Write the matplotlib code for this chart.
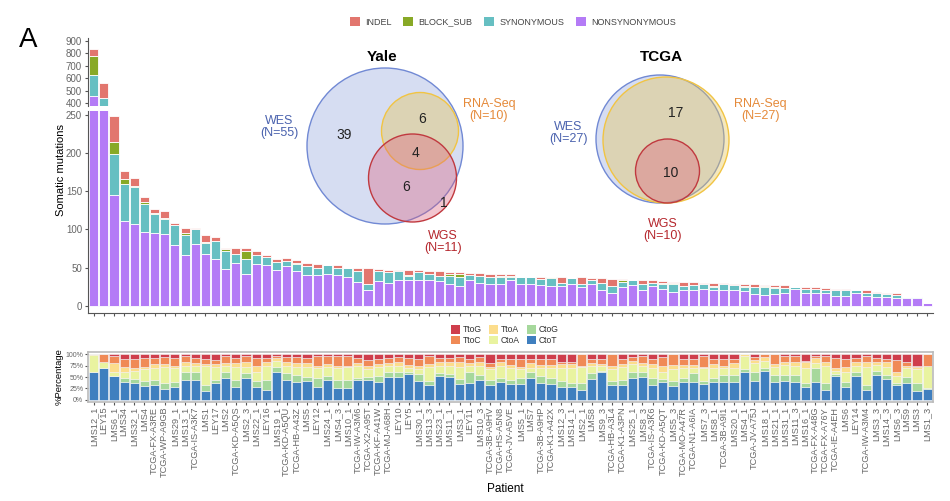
import matplotlib
matplotlib.use('Agg')
import matplotlib.pyplot as plt
import numpy as np
from matplotlib.patches import Patch, Circle

plt.rcParams['font.family'] = ['Liberation Sans', 'DejaVu Sans']

patients = ['LMS12_1', 'LEY15', 'LMS6_1', 'LMS34', 'LMS32_1', 'LMS4', 'TCGA-FX-A3RE', 'TCGA-WP-A9GB',
            'LMS29_1', 'LMS13_1', 'TCGA-IS-A3K7', 'LMS1', 'LEY17', 'LMS2', 'TCGA-KD-A5QS', 'LMS2_3',
            'LMS22_1', 'LEY16', 'LMS19_1', 'TCGA-KD-A5QU', 'TCGA-HB-A43Z', 'LMS5', 'LEY12', 'LMS24_1',
            'LMS4_3', 'LMS10_1', 'TCGA-IW-A3M6', 'TCGA-X2-A95T', 'TCGA-KF-A41W', 'TCGA-MJ-A68H', 'LEY10',
            'LEY5', 'LMS30_1', 'LMS13_3', 'LMS23_1', 'LMS11_1', 'LMS3_1', 'LEY11', 'LMS10_3',
            'TCGA-3B-A9HV', 'TCGA-HS-A5N8', 'TCGA-JV-A5VE', 'LMS5_1', 'LMS7', 'TCGA-3B-A9HP',
            'TCGA-K1-A42X', 'LMS12_3', 'LMS14_1', 'LMS2_1', 'LMS8', 'LMS9_3', 'TCGA-HB-A3L4',
            'TCGA-K1-A3PN', 'LMS25_1', 'LMS8_3', 'TCGA-IS-A3K6', 'TCGA-KD-A5QT', 'LMS5_3',
            'TCGA-MO-A47R', 'TCGA-N1-A6IA', 'LMS7_3', 'LMS8_1', 'TCGA-3B-A9I1', 'LMS20_1', 'LMS4_1',
            'TCGA-JV-A75J', 'LMS18_1', 'LMS21_1', 'LMS31_1', 'LMS11_3', 'LMS16_1', 'TCGA-FX-A48G',
            'TCGA-FX-A76Y', 'TCGA-IE-A4EH', 'LMS6', 'LEY14', 'TCGA-IW-A3M4', 'LMS3_3', 'LMS14_3',
            'LMS6_3', 'LMS9', 'LMS3', 'LMS1_3']

# somatic mutation counts
nonsyn = [460, 360, 145, 111, 107, 97, 95, 94, 80, 66, 81, 68, 61, 48, 56, 42, 54, 53, 47, 52, 46,
          40, 40, 41, 40, 37, 31, 20, 32, 30, 34, 34, 33, 34, 32, 28, 26, 34, 30, 28, 28, 33, 28,
          28, 27, 26, 26, 29, 24, 28, 21, 17, 24, 27, 21, 26, 22, 18, 21, 20, 22, 20, 21, 20, 19,
          15, 14, 15, 16, 22, 17, 17, 17, 13, 13, 16, 13, 11, 12, 10, 10, 10, 4]
syn = [165, 80, 54, 48, 48, 36, 25, 20, 26, 27, 19, 14, 24, 24, 12, 19, 12, 11, 10, 6, 9, 12, 9,
       12, 9, 13, 14, 8, 13, 14, 11, 5, 11, 8, 7, 11, 12, 6, 9, 9, 10, 5, 9, 9, 8, 10, 4, 7, 4, 6,
       9, 9, 7, 6, 8, 4, 6, 11, 5, 7, 6, 4, 7, 7, 6, 9, 10, 8, 7, 3, 5, 5, 4, 8, 7, 4, 4, 6, 3, 4,
       2, 1, 0]
block_sub = [155, 0, 16, 7, 2, 3, 2, 1, 0, 2, 1, 1, 0, 2, 0, 11, 1, 0, 0, 1, 1, 0, 0, 0, 0, 0, 0,
             0, 0, 0, 0, 1, 0, 0, 0, 3, 3, 0, 0, 0, 1, 1, 0, 0, 0, 2, 0, 0, 0, 0, 0, 0, 2, 0, 0, 0,
             2, 1, 0, 0, 0, 2, 0, 0, 1, 0, 2, 1, 0, 0, 0, 0, 0, 0, 0, 1, 0, 0, 0, 0, 0, 0, 0]
indel = [55, 120, 33, 10, 10, 6, 5, 9, 2, 7, 1, 9, 5, 2, 8, 3, 4, 2, 4, 3, 4, 4, 5, 0, 4, 0, 5,
         21, 3, 3, 2, 7, 3, 3, 6, 2, 3, 3, 4, 5, 2, 2, 0, 0, 3, 0, 7, 0, 9, 2, 6, 9, 2, 0, 4, 3,
         2, 1, 5, 4, 2, 4, 2, 2, 3, 4, 1, 3, 4, 0, 3, 2, 2, 1, 2, 0, 3, 1, 2, 2, 0, 0, 0]

# base substitution spectrum (%)
CtoT = [60, 69, 52, 39, 37, 31, 32, 24, 29, 44, 44, 19, 36, 48, 27, 47, 29, 22, 62, 43, 40, 42, 29,
        44, 25, 25, 44, 44, 40, 50, 50, 57, 42, 33, 52, 50, 35, 37, 44, 33, 40, 35, 35, 47, 37, 35,
        29, 29, 22, 46, 61, 33, 33, 48, 50, 33, 40, 31, 40, 39, 35, 40, 40, 40, 61, 42, 64, 40, 42,
        40, 27, 39, 22, 52, 29, 52, 22, 54, 46, 33, 36, 19, 23]
CtoG = [0, 0, 0, 9, 9, 11, 11, 13, 11, 17, 17, 13, 8, 14, 17, 11, 13, 22, 10, 15, 14, 8, 19, 8, 19,
        19, 3, 6, 12, 11, 12, 4, 14, 9, 6, 6, 11, 24, 10, 10, 7, 9, 12, 13, 15, 12, 13, 8, 15, 12,
        3, 9, 11, 14, 12, 14, 6, 11, 7, 19, 7, 7, 14, 14, 6, 19, 5, 14, 12, 14, 9, 30, 14, 4, 10, 9,
        11, 10, 8, 4, 14, 18, 2]
CtoA = [38, 14, 10, 14, 18, 25, 26, 34, 29, 14, 14, 43, 28, 13, 28, 13, 20, 31, 14, 17, 18, 21, 21,
        21, 25, 27, 28, 17, 19, 14, 13, 8, 11, 29, 17, 19, 26, 14, 21, 24, 28, 25, 20, 9, 17, 22, 27,
        32, 34, 17, 11, 25, 28, 17, 13, 22, 16, 25, 22, 11, 27, 22, 15, 15, 30, 20, 17, 17, 23, 21,
        33, 12, 39, 8, 23, 14, 38, 13, 17, 15, 19, 30, 50]
TtoA = [2, 0, 19, 10, 5, 5, 10, 8, 6, 8, 6, 4, 7, 6, 9, 12, 13, 8, 6, 8, 9, 10, 6, 6, 6, 4, 6, 8,
        8, 6, 8, 8, 8, 8, 8, 8, 11, 6, 8, 5, 8, 8, 5, 12, 8, 8, 10, 10, 4, 6, 4, 8, 7, 7, 6, 10, 13,
        10, 8, 8, 2, 10, 6, 12, 3, 6, 8, 8, 6, 8, 14, 11, 8, 5, 9, 8, 12, 6, 12, 8, 6, 4, 0]
TtoC = [0, 17, 15, 17, 20, 19, 12, 15, 17, 13, 11, 10, 8, 15, 11, 14, 17, 9, 5, 11, 13, 11, 21, 17,
        21, 21, 11, 12, 10, 11, 11, 15, 14, 17, 9, 9, 11, 8, 11, 9, 7, 12, 17, 8, 12, 12, 4, 4, 25,
        8, 10, 25, 10, 8, 15, 10, 19, 23, 12, 12, 26, 10, 14, 8, 0, 7, 6, 21, 13, 13, 3, 4, 13, 23,
        18, 9, 13, 9, 6, 27, 8, 4, 25]
TtoG = [0, 0, 4, 11, 11, 9, 9, 6, 8, 4, 8, 11, 13, 4, 8, 3, 8, 8, 3, 6, 6, 8, 4, 4, 4, 4, 8, 13, 11,
        8, 6, 8, 11, 4, 8, 8, 6, 11, 6, 19, 10, 11, 11, 11, 11, 11, 17, 17, 0, 11, 11, 0, 11, 6, 4,
        11, 6, 0, 11, 11, 3, 11, 11, 11, 0, 6, 0, 0, 4, 4, 14, 4, 4, 8, 11, 8, 4, 8, 11, 13, 17, 25, 0]

# Venn counts
yale_counts = ['39', '6', '4', '6', '1']
tcga_counts = ['17', '10']

W, H = 950, 501
fig = plt.figure(figsize=(W / 100, H / 100), dpi=100)


def px_axes(x0, y0, x1, y1):
    return fig.add_axes([x0 / W, 1 - y1 / H, (x1 - x0) / W, (y1 - y0) / H])


mut_cols = {'NONSYNONYMOUS': '#B47BF6', 'SYNONYMOUS': '#66BFC2',
            'BLOCK_SUB': '#88A926', 'INDEL': '#E2766E'}
sub_cols = {'CtoT': '#3F7FBF', 'CtoG': '#A6D89C', 'CtoA': '#E9F3A0',
            'TtoA': '#FCDD8C', 'TtoC': '#F08A56', 'TtoG': '#CF3E4C'}
tick_col = '#666666'
x = np.arange(len(patients))

ax_hi = px_axes(87.5, 38, 933.2, 106)
ax_lo = px_axes(87.5, 111, 933.2, 313)
ax_pc = px_axes(87.5, 352, 933.2, 402)

series = [('NONSYNONYMOUS', nonsyn), ('SYNONYMOUS', syn), ('BLOCK_SUB', block_sub), ('INDEL', indel)]
for ax in (ax_hi, ax_lo):
    bottom = np.zeros(len(patients))
    for name, vals in series:
        v = np.array(vals, dtype=float)
        ax.bar(x, v, bottom=bottom, width=0.9, color=mut_cols[name], edgecolor='white', linewidth=0.6)
        bottom += v
    ax.set_xlim(-0.6, len(patients) - 0.4)
    for s in ('top', 'right'):
        ax.spines[s].set_visible(False)
    ax.spines['left'].set_color('#555555')
    ax.tick_params(axis='y', labelsize=7, colors='#555555', length=2.5, labelcolor=tick_col, pad=1.5)

ax_hi.set_ylim(378, 922)
ax_hi.set_yticks([400, 500, 600, 700, 800, 900])
ax_hi.spines['bottom'].set_visible(False)
ax_hi.set_xticks([])

ax_lo.set_ylim(-9.6, 255)
ax_lo.set_yticks([0, 50, 100, 150, 200, 250])
ax_lo.set_xticks(x)
ax_lo.set_xticklabels([])
ax_lo.spines['bottom'].set_color('#555555')
ax_lo.tick_params(axis='x', length=2.5, colors='#555555')
fig.text(61 / W, 1 - 170 / H, 'Somatic mutations', rotation=90, ha='center', va='center', fontsize=8)

# percentage panel
spec = [('CtoT', CtoT), ('CtoG', CtoG), ('CtoA', CtoA), ('TtoA', TtoA), ('TtoC', TtoC), ('TtoG', TtoG)]
tot = np.sum([np.array(v, dtype=float) for _, v in spec], axis=0)
bottom = np.zeros(len(patients))
for name, vals in spec:
    v = np.array(vals, dtype=float) / tot
    ax_pc.bar(x, v, bottom=bottom, width=0.9, color=sub_cols[name], edgecolor='#F2F2F2', linewidth=0.4)
    bottom += v
ax_pc.set_xlim(-0.6, len(patients) - 0.4)
ax_pc.set_ylim(-0.05, 1.05)
ax_pc.set_yticks([0, 0.25, 0.5, 0.75, 1.0])
ax_pc.set_yticklabels(['0%', '25%', '50%', '75%', '100%'])
for s in ax_pc.spines.values():
    s.set_color('#BBBBBB')
    s.set_linewidth(1.2)
ax_pc.tick_params(axis='y', labelsize=5, labelcolor=tick_col, colors='#555555', length=2, pad=1)
ax_pc.set_xticks(x)
ax_pc.set_xticklabels(patients, rotation=90, fontsize=6.6, color=tick_col)
ax_pc.tick_params(axis='x', length=2, colors='#555555', labelcolor=tick_col, pad=1.5)
fig.text(59 / W, 1 - 377 / H, '%Percentage', rotation=90, ha='center', va='center', fontsize=6.8)
fig.text(505 / W, 1 - 489 / H, 'Patient', ha='center', va='center', fontsize=8.5)

# legends
h1 = [Patch(facecolor=mut_cols[k], edgecolor='none') for k in ['INDEL', 'BLOCK_SUB', 'SYNONYMOUS', 'NONSYNONYMOUS']]
fig.legend(h1, ['INDEL', 'BLOCK_SUB', 'SYNONYMOUS', 'NONSYNONYMOUS'], loc='center', ncol=4,
           bbox_to_anchor=(513 / W, 1 - 22 / H), frameon=False, fontsize=6.5, handlelength=1.1,
           handleheight=1.1, handletextpad=0.6, columnspacing=1.3, labelcolor='#444444')
order = ['TtoG', 'TtoC', 'TtoA', 'CtoA', 'CtoG', 'CtoT']
h2 = [Patch(facecolor=sub_cols[k], edgecolor='none') for k in order]
fig.legend(h2, order, loc='center', ncol=3, bbox_to_anchor=(505 / W, 1 - 335 / H), frameon=False,
           fontsize=6.2, handlelength=1.0, handleheight=1.2, handletextpad=0.4, columnspacing=0.8,
           labelspacing=0.15, labelcolor='#333333')

# Venn diagrams on an overlay in pixel coordinates
ov = fig.add_axes([0, 0, 1, 1])
ov.set_xlim(0, W)
ov.set_ylim(H, 0)
ov.axis('off')
ov.patch.set_alpha(0)

blue_e, yel_e, red_e = '#7189D4', '#F1C443', '#C0393F'
blue_f, yel_f, red_f = '#9EAEE0', '#E6C658', '#DC5A78'


def circ(cx, cy, r, fc, ec, a):
    ov.add_patch(Circle((cx, cy), r, facecolor=fc, edgecolor='none', alpha=a))
    ov.add_patch(Circle((cx, cy), r, facecolor='none', edgecolor=ec, linewidth=1.0))


circ(385, 146, 78, blue_f, blue_e, 0.42)
circ(420, 131, 38.5, yel_f, yel_e, 0.4)
circ(412.5, 178, 44, red_f, red_e, 0.35)
ov.text(382, 57, 'Yale', ha='center', va='center', fontsize=11, fontweight='bold')
ov.text(279, 127, 'WES\n(N=55)', ha='center', va='center', fontsize=9, color='#4A62AE', linespacing=1.1)
ov.text(489, 110, 'RNA-Seq\n(N=10)', ha='center', va='center', fontsize=9, color='#E58A3A', linespacing=1.1)
ov.text(443, 242, 'WGS\n(N=11)', ha='center', va='center', fontsize=9, color='#B5272D', linespacing=1.1)
for (tx, ty), t in zip([(344, 135), (422, 119), (415, 153), (406, 187), (444, 203)], yale_counts):
    ov.text(tx, ty, t, ha='center', va='center', fontsize=10, color='#222222')

circ(660, 139, 64, blue_f, blue_e, 0.42)
circ(666, 140, 63, yel_f, yel_e, 0.4)
circ(667.5, 171, 32, red_f, red_e, 0.35)
ov.text(661, 57, 'TCGA', ha='center', va='center', fontsize=11, fontweight='bold')
ov.text(568, 133, 'WES\n(N=27)', ha='center', va='center', fontsize=9, color='#4A62AE', linespacing=1.1)
ov.text(760, 110, 'RNA-Seq\n(N=27)', ha='center', va='center', fontsize=9, color='#E58A3A', linespacing=1.1)
ov.text(663, 230, 'WGS\n(N=10)', ha='center', va='center', fontsize=9, color='#B5272D', linespacing=1.1)
for (tx, ty), t in zip([(676, 113), (671, 173)], tcga_counts):
    ov.text(tx, ty, t, ha='center', va='center', fontsize=10, color='#222222')

fig.text(28 / W, 1 - 40 / H, 'A', ha='center', va='center', fontsize=20)

fig.savefig('out.png', dpi=100)
